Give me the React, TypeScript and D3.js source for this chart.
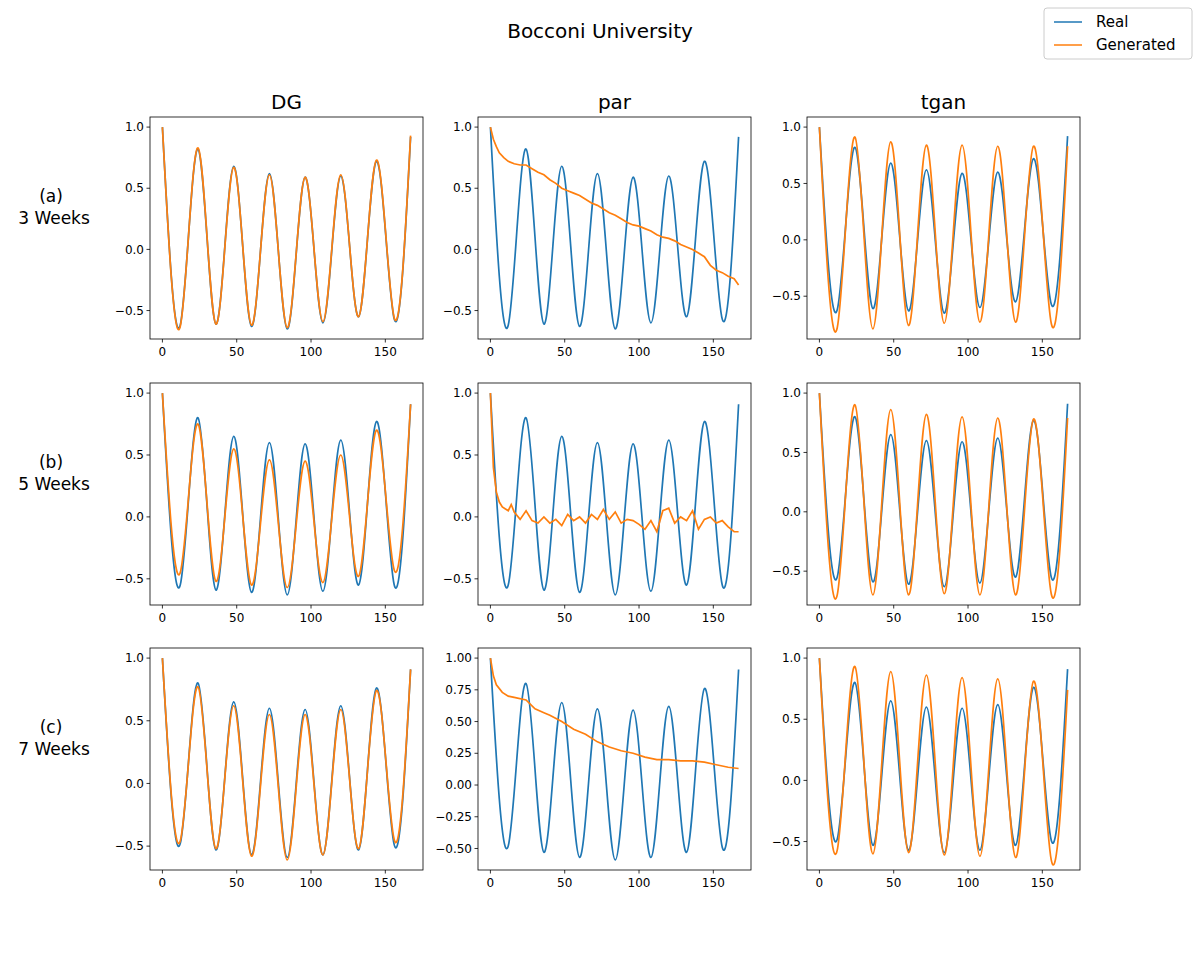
import React from 'react';
import * as d3 from 'd3';

// sample x positions: peaks (0,24,...,144,167) and troughs (12,...,156)
const waveX = [0, 12, 24, 36, 48, 60, 72, 84, 96, 108, 120, 132, 144, 156, 167];

const realA = [1.0, -0.62, 0.82, -0.61, 0.68, -0.63, 0.62, -0.65, 0.59, -0.6, 0.6, -0.55, 0.72, -0.57, 0.92];
const realB = [1.0, -0.55, 0.8, -0.59, 0.65, -0.61, 0.6, -0.63, 0.59, -0.6, 0.62, -0.55, 0.77, -0.55, 0.91];
const realC = [1.0, -0.48, 0.8, -0.53, 0.65, -0.57, 0.6, -0.59, 0.59, -0.57, 0.62, -0.53, 0.76, -0.49, 0.91];

const dgA = [1.0, -0.63, 0.83, -0.61, 0.67, -0.62, 0.61, -0.64, 0.59, -0.59, 0.61, -0.55, 0.73, -0.56, 0.93];
const dgB = [1.0, -0.45, 0.75, -0.52, 0.55, -0.55, 0.46, -0.57, 0.45, -0.53, 0.5, -0.48, 0.7, -0.43, 0.91];
const dgC = [1.0, -0.46, 0.77, -0.52, 0.62, -0.58, 0.55, -0.61, 0.55, -0.57, 0.59, -0.52, 0.74, -0.45, 0.91];

const tganA = [1.0, -0.78, 0.91, -0.79, 0.87, -0.76, 0.84, -0.74, 0.84, -0.73, 0.83, -0.73, 0.83, -0.74, 0.83];
const tganB = [1.0, -0.7, 0.9, -0.7, 0.86, -0.7, 0.82, -0.69, 0.8, -0.7, 0.79, -0.7, 0.78, -0.69, 0.79];
const tganC = [1.0, -0.57, 0.93, -0.6, 0.89, -0.59, 0.86, -0.61, 0.84, -0.62, 0.83, -0.63, 0.81, -0.65, 0.74];

const parAX = [0, 2, 4, 6, 9, 12, 16, 20, 24, 28, 32, 36, 40, 44, 48, 52, 56, 60, 64, 68, 72, 76, 80, 84, 88, 92, 96, 100, 104, 108, 112, 116, 120, 124, 128, 132, 136, 140, 144, 148, 152, 156, 160, 164, 167];
const parAY = [1.0, 0.9, 0.84, 0.79, 0.75, 0.72, 0.7, 0.69, 0.69, 0.66, 0.63, 0.61, 0.57, 0.54, 0.5, 0.48, 0.46, 0.44, 0.41, 0.38, 0.36, 0.33, 0.3, 0.28, 0.25, 0.22, 0.2, 0.19, 0.17, 0.15, 0.12, 0.1, 0.09, 0.07, 0.04, 0.02, 0.0, -0.03, -0.06, -0.13, -0.17, -0.19, -0.22, -0.24, -0.29];

const parBX = [0, 2, 4, 6, 8, 12, 14, 16, 20, 24, 28, 32, 36, 40, 44, 48, 52, 56, 60, 64, 68, 72, 76, 80, 84, 88, 92, 96, 100, 104, 108, 112, 116, 120, 124, 128, 132, 136, 140, 144, 148, 152, 156, 160, 164, 167];
const parBY = [1.0, 0.4, 0.2, 0.12, 0.08, 0.05, 0.1, 0.04, -0.02, 0.05, -0.03, -0.05, 0.0, -0.05, -0.02, -0.07, 0.02, -0.03, 0.0, -0.05, 0.02, -0.02, 0.06, -0.02, 0.04, -0.05, -0.02, -0.03, -0.06, -0.1, -0.03, -0.12, 0.05, 0.07, -0.05, 0.0, -0.03, 0.05, -0.1, -0.02, 0.0, -0.05, -0.03, -0.08, -0.12, -0.12];

const parCX = [0, 2, 4, 8, 12, 16, 24, 30, 36, 40, 48, 56, 64, 72, 80, 88, 96, 104, 112, 120, 128, 136, 144, 152, 160, 167];
const parCY = [1.0, 0.86, 0.79, 0.73, 0.7, 0.69, 0.67, 0.6, 0.57, 0.55, 0.5, 0.44, 0.4, 0.34, 0.3, 0.27, 0.25, 0.22, 0.2, 0.2, 0.19, 0.19, 0.18, 0.16, 0.14, 0.13];

const colTitles = ['DG', 'par', 'tgan'];
const rowLabels = [['(a)', '3 Weeks'], ['(b)', '5 Weeks'], ['(c)', '7 Weeks']];
const xTicks = [0, 50, 100, 150];
const yTicksHalf = [-0.5, 0, 0.5, 1.0];
const yTicksQuarter = [-0.5, -0.25, 0, 0.25, 0.5, 0.75, 1.0];

type Series = { x: number[]; y: number[]; smooth: boolean };
const wave = (y: number[]): Series => ({ x: waveX, y, smooth: true });

const panels: { real: Series; gen: Series; ticks: number[] }[][] = [
  [
    { real: wave(realA), gen: wave(dgA), ticks: yTicksHalf },
    { real: wave(realA), gen: { x: parAX, y: parAY, smooth: false }, ticks: yTicksHalf },
    { real: wave(realA), gen: wave(tganA), ticks: yTicksHalf },
  ],
  [
    { real: wave(realB), gen: wave(dgB), ticks: yTicksHalf },
    { real: wave(realB), gen: { x: parBX, y: parBY, smooth: false }, ticks: yTicksHalf },
    { real: wave(realB), gen: wave(tganB), ticks: yTicksHalf },
  ],
  [
    { real: wave(realC), gen: wave(dgC), ticks: yTicksHalf },
    { real: wave(realC), gen: { x: parCX, y: parCY, smooth: false }, ticks: yTicksQuarter },
    { real: wave(realC), gen: wave(tganC), ticks: yTicksHalf },
  ],
];

const colX = [150, 478, 807];
const rowY = [117, 383, 648];
const pw = 273;
const ph = 222;
const BLUE = '#1f77b4';
const ORANGE = '#ff7f0e';
const font = 'DejaVu Sans, sans-serif';

const Panel: React.FC<{ p: (typeof panels)[0][0]; x0: number; y0: number }> = ({ p, x0, y0 }) => {
  const x = d3.scaleLinear().domain([-8.35, 175.35]).range([0, pw]);
  const all = [...p.real.y, ...p.gen.y];
  const lo = d3.min(all)!, hi = d3.max(all)!;
  const pad = (hi - lo) * 0.05;
  const y = d3.scaleLinear().domain([lo - pad, hi + pad]).range([ph, 0]);
  const mk = (s: Series) =>
    d3.line<number>()
      .x((_, i) => x(s.x[i]))
      .y((v) => y(v))
      .curve(s.smooth ? d3.curveNatural : d3.curveLinear)(s.y) || '';
  const fmt = p.ticks === yTicksQuarter ? d3.format('.2f') : d3.format('.1f');
  return (
    <g transform={`translate(${x0},${y0})`}>
      <path d={mk(p.real)} fill="none" stroke={BLUE} strokeWidth={1.7} />
      <path d={mk(p.gen)} fill="none" stroke={ORANGE} strokeWidth={1.7} />
      <rect width={pw} height={ph} fill="none" stroke="#000" strokeWidth={0.8} />
      {xTicks.map((t) => (
        <g key={t} transform={`translate(${x(t)},${ph})`}>
          <line y2={3.5} stroke="#000" strokeWidth={0.8} />
          <text y={17} textAnchor="middle" fontSize={12} fontFamily={font}>{t}</text>
        </g>
      ))}
      {p.ticks.map((t) => (
        <g key={t} transform={`translate(0,${y(t)})`}>
          <line x2={-3.5} stroke="#000" strokeWidth={0.8} />
          <text x={-6} dy="0.35em" textAnchor="end" fontSize={12} fontFamily={font}>{fmt(t)}</text>
        </g>
      ))}
    </g>
  );
};

const App: React.FC = () => (
  <svg width={1200} height={977} style={{ position: 'absolute', left: 0, top: 0, background: '#fff' }}>
    <text x={600} y={38} textAnchor="middle" fontSize={20} fontFamily={font}>Bocconi University</text>
    {colTitles.map((t, c) => (
      <text key={t} x={colX[c] + pw / 2} y={109} textAnchor="middle" fontSize={20} fontFamily={font}>{t}</text>
    ))}
    {rowLabels.map((r, i) => (
      <text key={i} x={54} y={rowY[i] + 85} textAnchor="middle" fontSize={17} fontFamily={font}>
        <tspan x={51}>{r[0]}</tspan>
        <tspan x={54} dy={22}>{r[1]}</tspan>
      </text>
    ))}
    {panels.map((row, r) => row.map((p, c) => <Panel key={`${r}-${c}`} p={p} x0={colX[c]} y0={rowY[r]} />))}
    <g transform="translate(1044,8)">
      <rect width={148} height={51} rx={3} fill="#fff" stroke="#ccc" />
      <line x1={10} x2={38} y1={14} y2={14} stroke={BLUE} strokeWidth={1.5} />
      <text x={52} y={19} fontSize={15} fontFamily={font}>Real</text>
      <line x1={10} x2={38} y1={37} y2={37} stroke={ORANGE} strokeWidth={1.5} />
      <text x={52} y={42} fontSize={15} fontFamily={font}>Generated</text>
    </g>
  </svg>
);

export default App;
